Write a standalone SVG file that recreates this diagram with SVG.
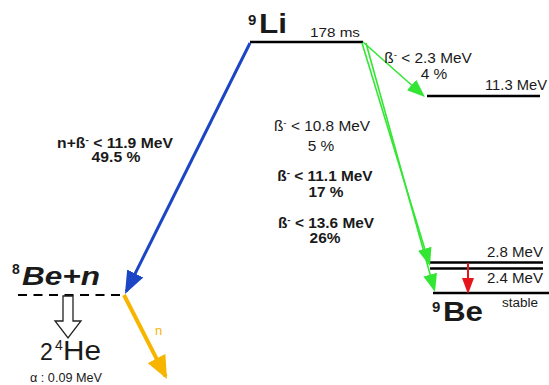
<svg xmlns="http://www.w3.org/2000/svg" width="549" height="385" viewBox="0 0 549 385">
  <style>
    text { font-family: "Liberation Sans", Arial, sans-serif; fill: #1a1a1a; }
    .lbl { font-size: 14px; }
    .b { font-weight: bold; }
    .mid { text-anchor: middle; }
    .lvl { stroke: #000; stroke-width: 2.5; fill: none; }
    .sup { font-size: 9px; }
  </style>
  <defs>
    <marker id="hBlue" markerUnits="userSpaceOnUse" markerWidth="26" markerHeight="20" refX="20" refY="9" orient="auto">
      <path d="M0,0 L23,9 L0,18 z" fill="#1b45c4"/>
    </marker>
    <marker id="hOrange" markerUnits="userSpaceOnUse" markerWidth="26" markerHeight="22" refX="20" refY="10" orient="auto">
      <path d="M0,0 L23,10 L0,20 z" fill="#f7b500"/>
    </marker>
    <marker id="hGreen" markerUnits="userSpaceOnUse" markerWidth="22" markerHeight="16" refX="15" refY="7" orient="auto">
      <path d="M0,0 L18,7 L0,14 z" fill="#33e633"/>
    </marker>
    <marker id="hRed" markerUnits="userSpaceOnUse" markerWidth="20" markerHeight="14" refX="13" refY="6" orient="auto">
      <path d="M0,0 L16,6 L0,12 z" fill="#e8141b"/>
    </marker>
  </defs>

  <!-- 9Li parent level -->
  <g id="li9">
    <line class="lvl" x1="250" y1="42" x2="363" y2="42" stroke-width="3"/>
    <text x="248" y="25" class="b" font-size="15">9</text>
    <text x="259" y="33" class="b" font-size="28" textLength="28" lengthAdjust="spacingAndGlyphs">Li</text>
    <text x="310" y="37" font-size="13.5" textLength="50" lengthAdjust="spacingAndGlyphs">178 ms</text>
  </g>

  <!-- 9Be excited level at 11.3 MeV -->
  <g id="be9-11">
    <line class="lvl" x1="427" y1="96" x2="540" y2="96"/>
    <text x="485" y="90" class="lbl" textLength="62" lengthAdjust="spacingAndGlyphs">11.3 MeV</text>
  </g>

  <!-- 9Be low levels -->
  <g id="be9">
    <line class="lvl" x1="430" y1="262.5" x2="543" y2="262.5"/>
    <line class="lvl" x1="430" y1="268.5" x2="543" y2="268.5"/>
    <line class="lvl" x1="433" y1="293" x2="549" y2="293" stroke-width="3.5"/>
    <text x="487" y="257" class="lbl" textLength="56" lengthAdjust="spacingAndGlyphs">2.8 MeV</text>
    <text x="487" y="283" class="lbl" textLength="56" lengthAdjust="spacingAndGlyphs">2.4 MeV</text>
    <text x="502" y="307" font-size="12.5" textLength="36" lengthAdjust="spacingAndGlyphs">stable</text>
    <text x="432" y="312" class="b" font-size="15">9</text>
    <text x="443" y="321" class="b" font-size="27" textLength="40" lengthAdjust="spacingAndGlyphs">Be</text>
  </g>

  <!-- 8Be + n threshold -->
  <g id="be8n">
    <line x1="18" y1="295" x2="124" y2="295" stroke="#000" stroke-width="2" stroke-dasharray="9,6.5"/>
    <text x="12" y="274" class="b" font-size="14">8</text>
    <text x="22" y="285" class="b" font-size="25" font-style="italic" textLength="78" lengthAdjust="spacingAndGlyphs">Be+n</text>
  </g>

  <!-- 8Be breakup into two alphas -->
  <g id="he4">
    <polygon points="63,296 73,296 73,321 81,321 68,338 55,321 63,321" fill="#fff" stroke="#222" stroke-width="1.3"/>
    <text x="40" y="360" font-size="23">2</text>
    <text x="55" y="350" font-size="14">4</text>
    <text x="63" y="360" font-size="28" textLength="38" lengthAdjust="spacingAndGlyphs">He</text>
    <text x="30" y="382" font-size="13" textLength="72" lengthAdjust="spacingAndGlyphs">α : 0.09 MeV</text>
  </g>

  <!-- decay arrows -->
  <g id="connectors" fill="none">
    <line x1="250" y1="43" x2="126.3" y2="291.3" stroke="#1b45c4" stroke-width="3" marker-end="url(#hBlue)"/>
    <line x1="124" y1="295" x2="165.6" y2="376.3" stroke="#f7b500" stroke-width="4" marker-end="url(#hOrange)"/>
    <line x1="363" y1="42" x2="422.8" y2="95" stroke="#33e633" stroke-width="1.6" marker-end="url(#hGreen)"/>
    <line x1="362" y1="43" x2="429.1" y2="263.1" stroke="#33e633" stroke-width="1.6" marker-end="url(#hGreen)"/>
    <line x1="366" y1="43" x2="434.2" y2="289.1" stroke="#33e633" stroke-width="1.6" marker-end="url(#hGreen)"/>
    <line x1="468" y1="263" x2="468" y2="291" stroke="#e8141b" stroke-width="2" marker-end="url(#hRed)"/>
  </g>

  <!-- branch labels (slightly widened glyphs) -->
  <g id="labels">
    <text class="lbl b mid" transform="translate(115,148) scale(1.12,1)">n+ß<tspan class="sup" dy="-5">-</tspan><tspan dy="5"> &lt; 11.9 MeV</tspan></text>
    <text class="lbl b mid" transform="translate(116,162) scale(1.12,1)">49.5 %</text>

    <text class="lbl mid" transform="translate(428,63) scale(1.1,1)">ß<tspan class="sup" dy="-5">-</tspan><tspan dy="5"> &lt; 2.3 MeV</tspan></text>
    <text class="lbl mid" transform="translate(434,79) scale(1.1,1)">4 %</text>

    <text class="lbl mid" transform="translate(322,131) scale(1.1,1)">ß<tspan class="sup" dy="-5">-</tspan><tspan dy="5"> &lt; 10.8 MeV</tspan></text>
    <text class="lbl mid" transform="translate(321,151) scale(1.1,1)">5 %</text>

    <text class="lbl b mid" transform="translate(325,181) scale(1.1,1)">ß<tspan class="sup" dy="-5">-</tspan><tspan dy="5"> &lt; 11.1 MeV</tspan></text>
    <text class="lbl b mid" transform="translate(326,197) scale(1.1,1)">17 %</text>

    <text class="lbl b mid" transform="translate(326,228) scale(1.1,1)">ß<tspan class="sup" dy="-5">-</tspan><tspan dy="5"> &lt; 13.6 MeV</tspan></text>
    <text class="lbl b mid" transform="translate(325,243) scale(1.1,1)">26%</text>

    <text x="155" y="335" font-size="13" style="fill:#f7b500">n</text>
  </g>
</svg>
